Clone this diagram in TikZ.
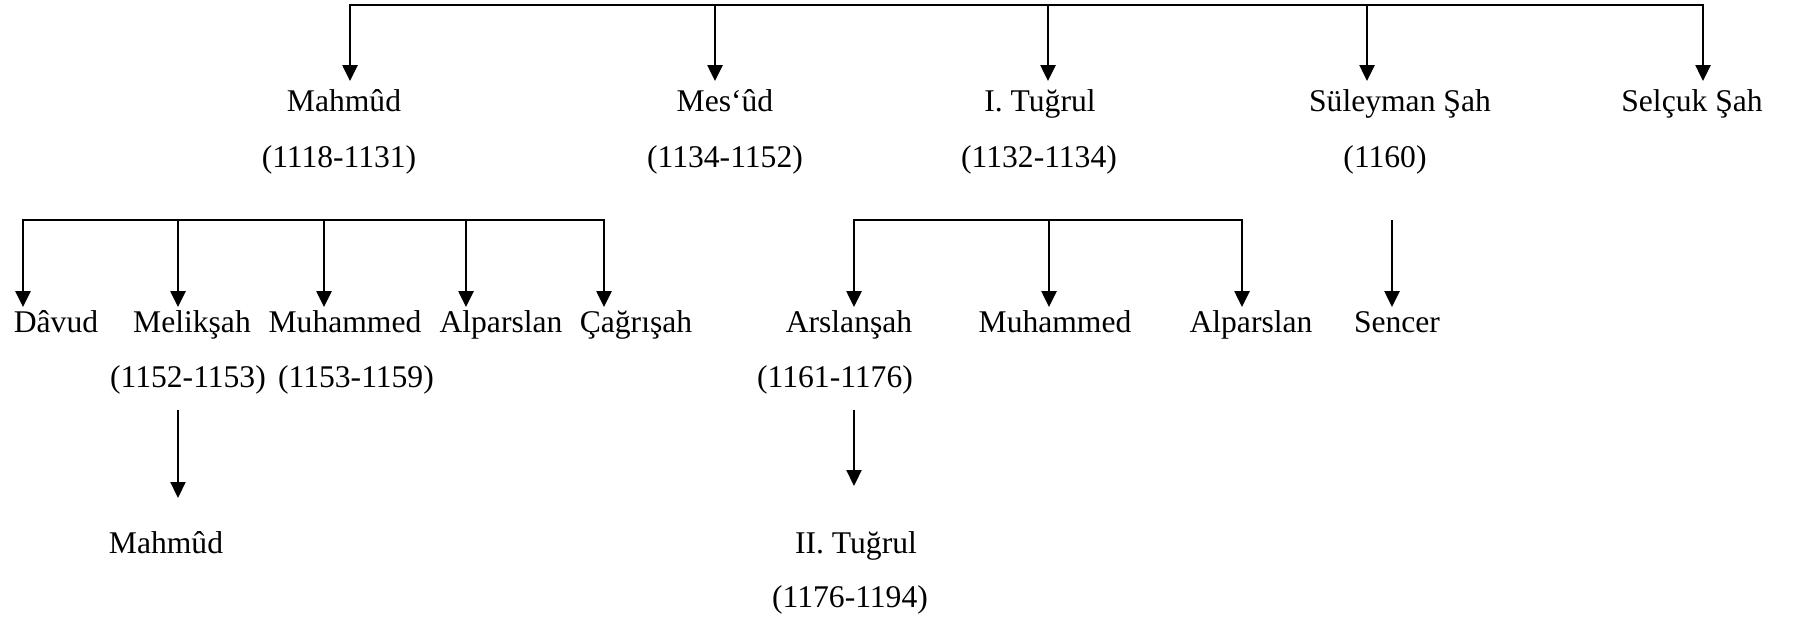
\documentclass[tikz,border=0pt]{standalone}
\usepackage{fontspec}
\setmainfont{Liberation Serif}
\usetikzlibrary{arrows.meta}
\newcommand\treefs{\fontsize{31.6pt}{38pt}\selectfont}
\begin{document}
\begin{tikzpicture}[x=1pt,y=-1pt,
  lbl/.style={anchor=base, inner sep=0pt, font=\treefs},
  busline/.style={line width=2.7pt, line cap=rect},
  arr/.style={-{Triangle[width=15pt,length=16pt]}, line width=2.6pt},
  thinarr/.style={-{Triangle[width=15pt,length=16pt]}, line width=2.2pt}]
\useasboundingbox[fill=white] (0,0) rectangle (1794,619);

% ---- generation 1
\node[lbl] (m1) at (344,111) {Mahmûd};
\node[lbl] (m2) at (725,111) {Mes‘ûd};
\node[lbl] (m3) at (1040,111) {I. Tuğrul};
\node[lbl] (m4) at (1400,111) {Süleyman Şah};
\node[lbl] (m5) at (1692,111) {Selçuk Şah};
\node[lbl] (d1) at (339,167) {(1118-1131)};
\node[lbl] (d2) at (725,167) {(1134-1152)};
\node[lbl] (d3) at (1039,167) {(1132-1134)};
\node[lbl] (d4) at (1385,167) {(1160)};

% ---- generation 2
\node[lbl] (a1) at (56,332) {Dâvud};
\node[lbl] (a2) at (192,332) {Melikşah};
\node[lbl] (a3) at (345,332) {Muhammed};
\node[lbl] (a4) at (501,332) {Alparslan};
\node[lbl] (a5) at (636,332) {Çağrışah};
\node[lbl] (b1) at (849,332) {Arslanşah};
\node[lbl] (b2) at (1055,332) {Muhammed};
\node[lbl] (b3) at (1251,332) {Alparslan};
\node[lbl] (s1) at (1397,332) {Sencer};
\node[lbl] (da2) at (188,387) {(1152-1153)};
\node[lbl] (da3) at (356,387) {(1153-1159)};
\node[lbl] (db1) at (835,387) {(1161-1176)};

% ---- generation 3
\node[lbl] (c1) at (166,553) {Mahmûd};
\node[lbl] (c2) at (856,553) {II. Tuğrul};
\node[lbl] (dc2) at (850,607) {(1176-1194)};

% ---- top bus
\coordinate (top-l) at (350,5);
\coordinate (top-r) at (1703,5);
\draw[busline] (top-l) -- (top-r);
\foreach \n/\x in {m1/350, m2/715, m3/1048, m4/1367, m5/1703}{
  \coordinate (bt-\n) at (\x,5);
  \coordinate (tp-\n) at (\x,81);
  \draw[arr] (bt-\n) -- (tp-\n);
}

% ---- Mahmud's children
\coordinate (busA-l) at (23,220);
\coordinate (busA-r) at (604,220);
\draw[busline] (busA-l) -- (busA-r);
\foreach \n/\x in {a1/23, a2/178, a3/324, a4/466, a5/604}{
  \coordinate (bt-\n) at (\x,220);
  \coordinate (tp-\n) at (\x,307);
  \draw[arr] (bt-\n) -- (tp-\n);
}

% ---- I. Tugrul's children
\coordinate (busB-l) at (854,220);
\coordinate (busB-r) at (1242,220);
\draw[busline] (busB-l) -- (busB-r);
\foreach \n/\x in {b1/854, b2/1049, b3/1242}{
  \coordinate (bt-\n) at (\x,220);
  \coordinate (tp-\n) at (\x,307);
  \draw[arr] (bt-\n) -- (tp-\n);
}

% ---- Suleyman Sah -> Sencer
\coordinate (bt-s1) at (1392,220);
\coordinate (tp-s1) at (1392,307);
\draw[arr] (bt-s1) -- (tp-s1);

% ---- third generation
\coordinate (bt-c1) at (178,410);
\coordinate (tp-c1) at (178,498);
\draw[thinarr] (bt-c1) -- (tp-c1);
\coordinate (bt-c2) at (854,410);
\coordinate (tp-c2) at (854,486);
\draw[thinarr] (bt-c2) -- (tp-c2);
\end{tikzpicture}
\end{document}
